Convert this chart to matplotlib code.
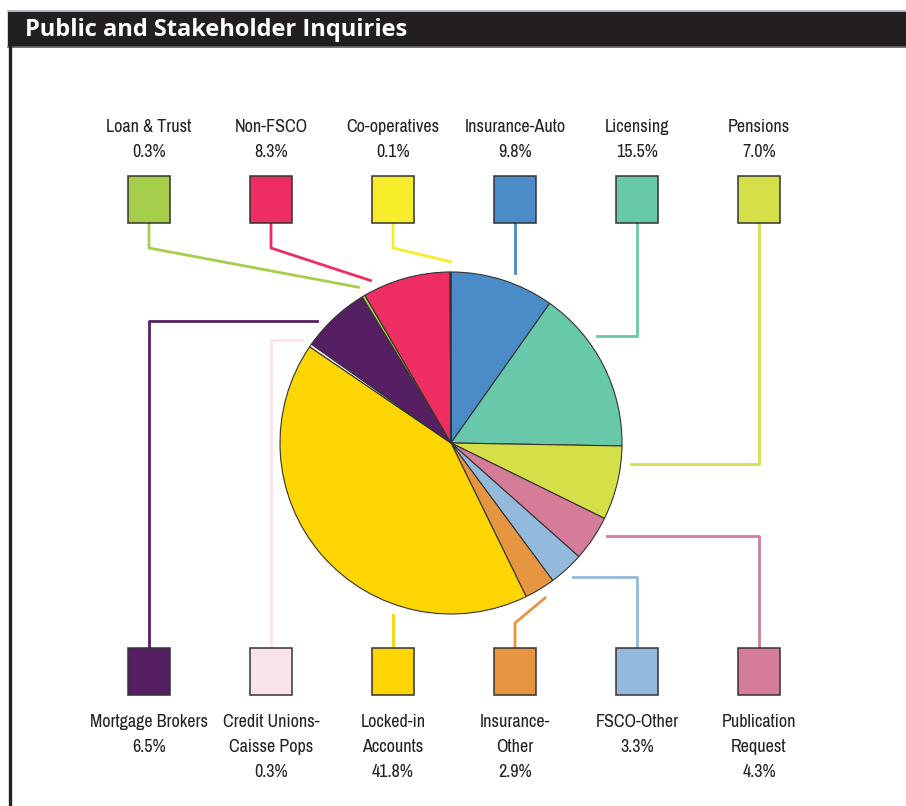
import numpy as np
import matplotlib
matplotlib.use("Agg")
import matplotlib.pyplot as plt
from matplotlib.patches import Rectangle

# data, clockwise from 12 o'clock
names = ["Insurance-Auto", "Licensing", "Pensions", "Publication\nRequest", "FSCO-Other",
         "Insurance-\nOther", "Locked-in\nAccounts", "Credit Unions-\nCaisse Pops",
         "Mortgage Brokers", "Loan & Trust", "Non-FSCO", "Co-operatives"]
shares = [9.8, 15.5, 7.0, 4.3, 3.3, 2.9, 41.8, 0.3, 6.5, 0.3, 8.3, 0.1]
colors = ["#4b8bc8", "#68c8aa", "#d5df48", "#d57c98", "#93badd", "#e69540",
          "#fdd500", "#fbe3ea", "#561f63", "#a6ce4a", "#ee2e62", "#f7ec2a"]
top_row = ["Loan & Trust", "Non-FSCO", "Co-operatives", "Insurance-Auto", "Licensing", "Pensions"]
bottom_row = ["Mortgage Brokers", "Credit Unions-\nCaisse Pops", "Locked-in\nAccounts",
              "Insurance-\nOther", "FSCO-Other", "Publication\nRequest"]

W, H = 906, 806
INK = "#231f20"
plt.rcParams["font.family"] = ["Archivo Narrow", "DejaVu Sans"]

fig = plt.figure(figsize=(W / 100, H / 100), dpi=100)
ax = fig.add_axes([0, 0, 1, 1])

def Y(y):
    return H - y

cx, cy, R = 451, Y(443), 171
wedges, _ = ax.pie(shares, colors=colors, startangle=90, counterclock=False,
                   center=(cx, cy), radius=R, frame=True,
                   wedgeprops=dict(edgecolor="#333333", linewidth=0.8))
ax.set_xlim(0, W)
ax.set_ylim(0, H)
ax.set_aspect("equal")
ax.axis("off")

# header bar and frame
ax.add_patch(Rectangle((8, Y(46)), W, 34, color=INK, zorder=5))
ax.plot([8, W], [Y(11), Y(11)], color="#a9abba", lw=1.2, zorder=5)
ax.plot([8, W], [Y(46.5), Y(46.5)], color="#666666", lw=1.2, zorder=5)
ax.plot([9.5, 9.5], [Y(46), 0], color=INK, lw=2.4, zorder=5)
ax.text(25, Y(30), "Public and Stakeholder Inquiries", color="white", fontsize=17,
        fontweight="bold", family=["Open Sans", "DejaVu Sans"], va="center", ha="left", zorder=6)

# where along each wedge the leader meets it (0 = start, 1 = end, clockwise)
lead_frac = {"Licensing": 0.33, "Non-FSCO": 0.13, "Pensions": 0.23,
             "Publication\nRequest": 0.3, "Mortgage Brokers": 0.3}

def anchor(name, r=1.06):
    w = wedges[names.index(name)]
    f = lead_frac.get(name, 0.5)
    a = np.deg2rad(w.theta2 + (w.theta1 - w.theta2) * f)
    return cx + r * R * np.cos(a), cy + r * R * np.sin(a)

bw, bh = 42, 47
lw = 2.0
for row, labels in enumerate([top_row, bottom_row]):
    for i, name in enumerate(labels):
        k = names.index(name)
        col = colors[k]
        bx = 149 + 122 * i
        pct = f"{shares[k]:.1f}%"
        lines = name.split("\n") + [pct]
        y0 = 127 if row == 0 else 722
        for j, t in enumerate(lines):
            ax.text(bx, Y(y0 + 25 * j), t, ha="center", va="center", fontsize=13, color=INK)
        if row == 0:
            btop, bbot = 176, 223
            edge = Y(bbot)
        else:
            btop, bbot = 648, 695
            edge = Y(btop)
        ax.add_patch(Rectangle((bx - bw / 2, Y(bbot)), bw, bh, facecolor=col,
                               edgecolor="#333333", lw=1.1, zorder=4))
        ax_, ay_ = anchor(name)
        if name in ("Insurance-Auto", "Locked-in\nAccounts"):
            # straight drop onto the circle
            dx = bx - cx
            dy = np.sqrt((1.06 * R) ** 2 - dx ** 2)
            ey = cy + dy if row == 0 else cy - dy
            ax.plot([bx, bx], [edge, ey], color=col, lw=lw, zorder=3)
        elif name in ("Licensing", "Pensions", "Publication\nRequest", "FSCO-Other",
                      "Credit Unions-\nCaisse Pops", "Mortgage Brokers"):
            ax.plot([bx, bx, ax_], [edge, ay_, ay_], color=col, lw=lw, zorder=3)
        else:
            ey = edge - 25 if row == 0 else edge + 25
            ax.plot([bx, bx, ax_], [edge, ey, ay_], color=col, lw=lw, zorder=3)

fig.savefig("out.png", dpi=100)
